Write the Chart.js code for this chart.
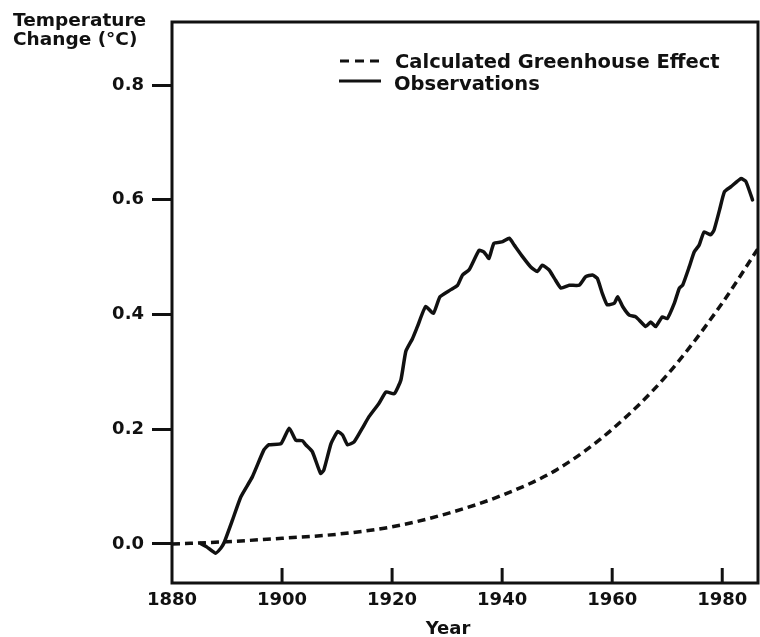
<!DOCTYPE html>
<html>
<head>
<meta charset="utf-8">
<script src="https://cdn.jsdelivr.net/npm/chart.js@4/dist/chart.umd.min.js"></script>
<style>
  html, body { margin: 0; padding: 0; background: #fff; }
  #wrap { width: 760px; height: 637px; }
</style>
</head>
<body>
<div id="wrap"><canvas id="c" width="760" height="637"></canvas></div>
<script>
// ---- data ----
const xTickValues = [1880, 1900, 1920, 1940, 1960, 1980];
const yTickValues = [0.0, 0.2, 0.4, 0.6, 0.8];

const calcYears  = [1880, 1890, 1900, 1910, 1920, 1930, 1940, 1950, 1960, 1970, 1980, 1986.5];
const calcValues = [0.000, 0.004, 0.010, 0.017, 0.030, 0.053, 0.085, 0.130, 0.200, 0.295, 0.420, 0.515];

const obsYears = [1885.2, 1886.3, 1887.9, 1888.9, 1889.5, 1891.0, 1892.5, 1894.6, 1896.7, 1897.6,
  1899.8, 1901.3, 1902.5, 1903.7, 1904.3, 1905.5, 1907.0, 1907.6, 1908.9, 1910.1,
  1911.0, 1911.9, 1913.1, 1914.6, 1915.8, 1917.6, 1918.9, 1920.4, 1921.6, 1922.5,
  1923.7, 1924.6, 1926.1, 1927.5, 1928.7, 1930.6, 1931.9, 1932.8, 1934.0, 1935.8,
  1936.7, 1937.6, 1938.5, 1940.1, 1941.3, 1942.2, 1943.7, 1945.2, 1946.4, 1947.3,
  1948.5, 1949.5, 1950.7, 1952.2, 1954.0, 1955.2, 1956.4, 1957.3, 1958.2, 1959.1,
  1960.4, 1961.0, 1961.9, 1963.1, 1964.3, 1966.1, 1967.0, 1967.9, 1969.1, 1970.0,
  1971.3, 1972.2, 1972.8, 1974.0, 1974.9, 1975.8, 1976.7, 1977.9, 1978.5, 1979.5,
  1980.4, 1981.6, 1983.4, 1984.3, 1985.5];
const obsValues = [0.001, -0.005, -0.016, -0.007, 0.003, 0.042, 0.082, 0.117, 0.164, 0.173,
  0.175, 0.202, 0.181, 0.180, 0.173, 0.161, 0.123, 0.129, 0.175, 0.196,
  0.190, 0.173, 0.178, 0.202, 0.222, 0.245, 0.265, 0.262, 0.286, 0.336,
  0.358, 0.379, 0.414, 0.402, 0.431, 0.443, 0.451, 0.469, 0.478, 0.512,
  0.509, 0.498, 0.524, 0.527, 0.533, 0.521, 0.501, 0.483, 0.475, 0.486,
  0.478, 0.463, 0.446, 0.451, 0.451, 0.466, 0.469, 0.463, 0.437, 0.417,
  0.420, 0.431, 0.414, 0.399, 0.396, 0.379, 0.387, 0.379, 0.396, 0.393,
  0.420, 0.446, 0.451, 0.483, 0.509, 0.521, 0.544, 0.539, 0.547, 0.582,
  0.614, 0.623, 0.637, 0.632, 0.600];

const seriesNames = ['Calculated Greenhouse Effect', 'Observations'];
const yTitleLines = ['Temperature', 'Change (°C)'];
const xTitle = 'Year';

// ---- chart ----
const FONT = '"DejaVu Sans", sans-serif';
const INK = '#111';

const toPts = (xs, ys) => xs.map((x, i) => ({ x: x, y: ys[i] }));

const decorPlugin = {
  id: 'decor',
  beforeDraw(chart) {
    const ctx = chart.ctx;
    ctx.save();
    ctx.fillStyle = '#fff';
    ctx.fillRect(0, 0, chart.width, chart.height);
    ctx.restore();
  },
  afterDraw(chart) {
    const ctx = chart.ctx;
    const a = chart.chartArea;
    const xs = chart.scales.x;
    ctx.save();
    ctx.strokeStyle = INK;
    ctx.lineWidth = 3;
    ctx.lineCap = 'butt';
    // frame
    ctx.strokeRect(a.left, a.top, a.right - a.left, a.bottom - a.top);
    // inward x tick marks
    xTickValues.forEach((v, i) => {
      if (i === 0) return;
      const px = xs.getPixelForValue(v);
      ctx.beginPath();
      ctx.moveTo(px, a.bottom);
      ctx.lineTo(px, a.bottom - 15);
      ctx.stroke();
    });
    // y title (two lines, top-left)
    ctx.fillStyle = INK;
    ctx.font = 'bold 18.5px ' + FONT;
    ctx.textAlign = 'left';
    ctx.textBaseline = 'alphabetic';
    ctx.fillText(yTitleLines[0], 13, 26);
    ctx.fillText(yTitleLines[1], 13, 45);
    // x title
    ctx.textAlign = 'center';
    ctx.font = 'bold 18px ' + FONT;
    ctx.fillText(xTitle, 448, 634);
    // legend
    ctx.lineWidth = 3;
    ctx.setLineDash([9, 6]);
    ctx.beginPath();
    ctx.moveTo(340, 61);
    ctx.lineTo(383, 61);
    ctx.stroke();
    ctx.setLineDash([]);
    ctx.beginPath();
    ctx.moveTo(339, 81);
    ctx.lineTo(381, 81);
    ctx.stroke();
    ctx.font = 'bold 19.5px ' + FONT;
    ctx.textAlign = 'left';
    ctx.fillText(seriesNames[0], 395, 68);
    ctx.fillText(seriesNames[1], 394, 90);
    ctx.restore();
  }
};

new Chart(document.getElementById('c'), {
  type: 'line',
  data: {
    datasets: [
      {
        label: seriesNames[0],
        data: toPts(calcYears, calcValues),
        borderColor: INK,
        borderWidth: 3.5,
        borderDash: [8, 5],
        pointRadius: 0,
        cubicInterpolationMode: 'monotone',
        fill: false
      },
      {
        label: seriesNames[1],
        data: toPts(obsYears, obsValues),
        borderColor: INK,
        borderWidth: 3.5,
        pointRadius: 0,
        tension: 0.15,
        borderJoinStyle: 'round',
        borderCapStyle: 'round',
        fill: false
      }
    ]
  },
  options: {
    responsive: false,
    devicePixelRatio: 1,
    animation: false,
    layout: { padding: { top: 22, right: 2, left: 0, bottom: 0 } },
    plugins: {
      legend: { display: false },
      tooltip: { enabled: false },
      title: { display: false }
    },
    scales: {
      x: {
        type: 'linear',
        min: 1880,
        max: 1986.5,
        afterBuildTicks: (s) => { s.ticks = xTickValues.map(v => ({ value: v })); },
        afterFit: (s) => { s.height = 54; },
        grid: { display: false, drawTicks: false },
        border: { display: false },
        ticks: {
          padding: 7,
          color: INK,
          font: { family: FONT, size: 18, weight: 'bold' },
          callback: (v) => String(v),
          maxRotation: 0,
          autoSkip: false
        }
      },
      y: {
        type: 'linear',
        min: -0.068,
        max: 0.91,
        afterBuildTicks: (s) => { s.ticks = yTickValues.map(v => ({ value: v })); },
        afterFit: (s) => { s.width = 172; },
        grid: {
          display: true,
          drawOnChartArea: false,
          drawTicks: true,
          tickLength: 20,
          tickWidth: 3,
          tickColor: INK,
          lineWidth: 3,
          color: INK
        },
        border: { display: false },
        ticks: {
          padding: 8,
          color: INK,
          font: { family: FONT, size: 18, weight: 'bold' },
          callback: (v) => Number(v).toFixed(1),
          autoSkip: false
        }
      }
    }
  },
  plugins: [decorPlugin]
});
</script>
</body>
</html>
